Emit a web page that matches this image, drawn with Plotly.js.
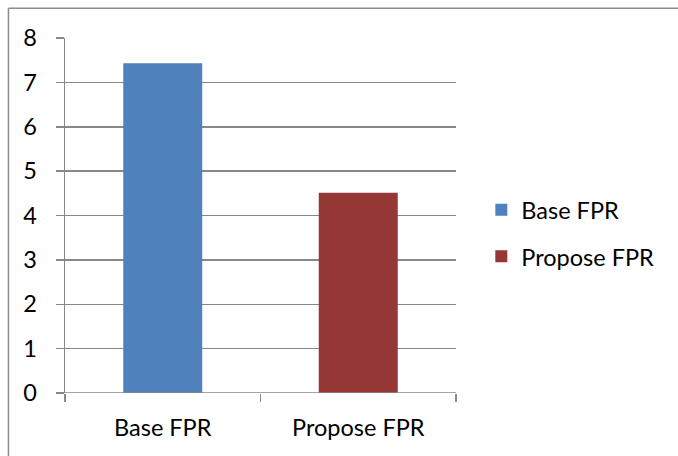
<!DOCTYPE html>
<html>
<head>
<meta charset="utf-8">
<script src="https://cdn.plot.ly/plotly-3.0.1.min.js"></script>
<style>
  html, body { margin: 0; padding: 0; background: #ffffff; }
  #chart { width: 678px; height: 456px; }
</style>
</head>
<body>
<div id="chart"></div>
<script>
// Data
const categories = ["Base FPR", "Propose FPR"];
const seriesNames = ["Base FPR", "Propose FPR"];
const seriesValues = [7.43, 4.51];
const seriesColors = ["#4F81BD", "#953735"];
const yTickValues = [0, 1, 2, 3, 4, 5, 6, 7, 8];

const fontFamily = "Lato, 'Open Sans', sans-serif";
const gridColor = "#888888";
const fs = 23.5;

const traces = seriesNames.map((name, i) => ({
  type: "bar",
  name: name,
  x: [categories[i]],
  y: [seriesValues[i]],
  width: 0.404,
  marker: { color: seriesColors[i], line: { width: 0 } },
  legendgroup: "g" + i,
  hoverinfo: "x+y"
}));

const plotW = 678 - 65 - 222.3;
const plotH = 456 - 38.3 - 63.3;

const layout = {
  width: 678,
  height: 456,
  margin: { l: 65, r: 222.3, t: 38.3, b: 63.3, pad: 0 },
  paper_bgcolor: "#ffffff",
  plot_bgcolor: "#ffffff",
  barmode: "overlay",
  showlegend: true,
  font: { family: fontFamily, size: fs, color: "#000000" },
  legend: {
    x: (481 - 65) / plotW, xanchor: "left", xref: "paper",
    y: (392.7 - 233.5) / plotH, yanchor: "middle",
    font: { family: fontFamily, size: fs, color: "#000000" },
    tracegroupgap: 13,
    traceorder: "grouped",
    itemwidth: 30,
    bgcolor: "rgba(0,0,0,0)"
  },
  xaxis: {
    type: "category",
    categoryorder: "array",
    categoryarray: categories,
    range: [-0.5, 1.5],
    showgrid: false,
    showline: false,
    zeroline: false,
    ticks: "outside",
    tickson: "boundaries",
    ticklen: 8,
    tickwidth: 1.5,
    tickcolor: gridColor,
    ticklabelstandoff: 18,
    tickfont: { family: fontFamily, size: fs, color: "#000000" },
    fixedrange: true
  },
  yaxis: {
    range: [0, 8],
    tickvals: yTickValues,
    ticktext: yTickValues.map(String),
    showgrid: true,
    gridcolor: gridColor,
    gridwidth: 1.5,
    showline: true,
    linecolor: gridColor,
    linewidth: 1.5,
    zeroline: false,
    ticks: "outside",
    ticklen: 8,
    tickwidth: 1.5,
    tickcolor: gridColor,
    ticklabelstandoff: 14,
    tickfont: { family: fontFamily, size: fs, color: "#000000" },
    fixedrange: true
  },
  shapes: [
    {
      type: "line", xref: "paper", yref: "y",
      x0: -8 / plotW, x1: 1, y0: 0, y1: 0,
      line: { color: gridColor, width: 1.5 },
      layer: "above"
    },
    {
      type: "line", xref: "paper", yref: "paper",
      x0: (8.5 - 65) / plotW, x1: (700 - 65) / plotW,
      y0: 1 + (38.3 - 8.5) / plotH, y1: 1 + (38.3 - 8.5) / plotH,
      line: { color: "#8c8c8c", width: 1.5 },
      layer: "below"
    },
    {
      type: "line", xref: "paper", yref: "paper",
      x0: (8.5 - 65) / plotW, x1: (8.5 - 65) / plotW,
      y0: -1, y1: 1 + (38.3 - 8.5) / plotH,
      line: { color: "#8c8c8c", width: 1.5 },
      layer: "below"
    }
  ]
};

Plotly.newPlot("chart", traces, layout, { displayModeBar: false, staticPlot: true });
</script>
</body>
</html>
